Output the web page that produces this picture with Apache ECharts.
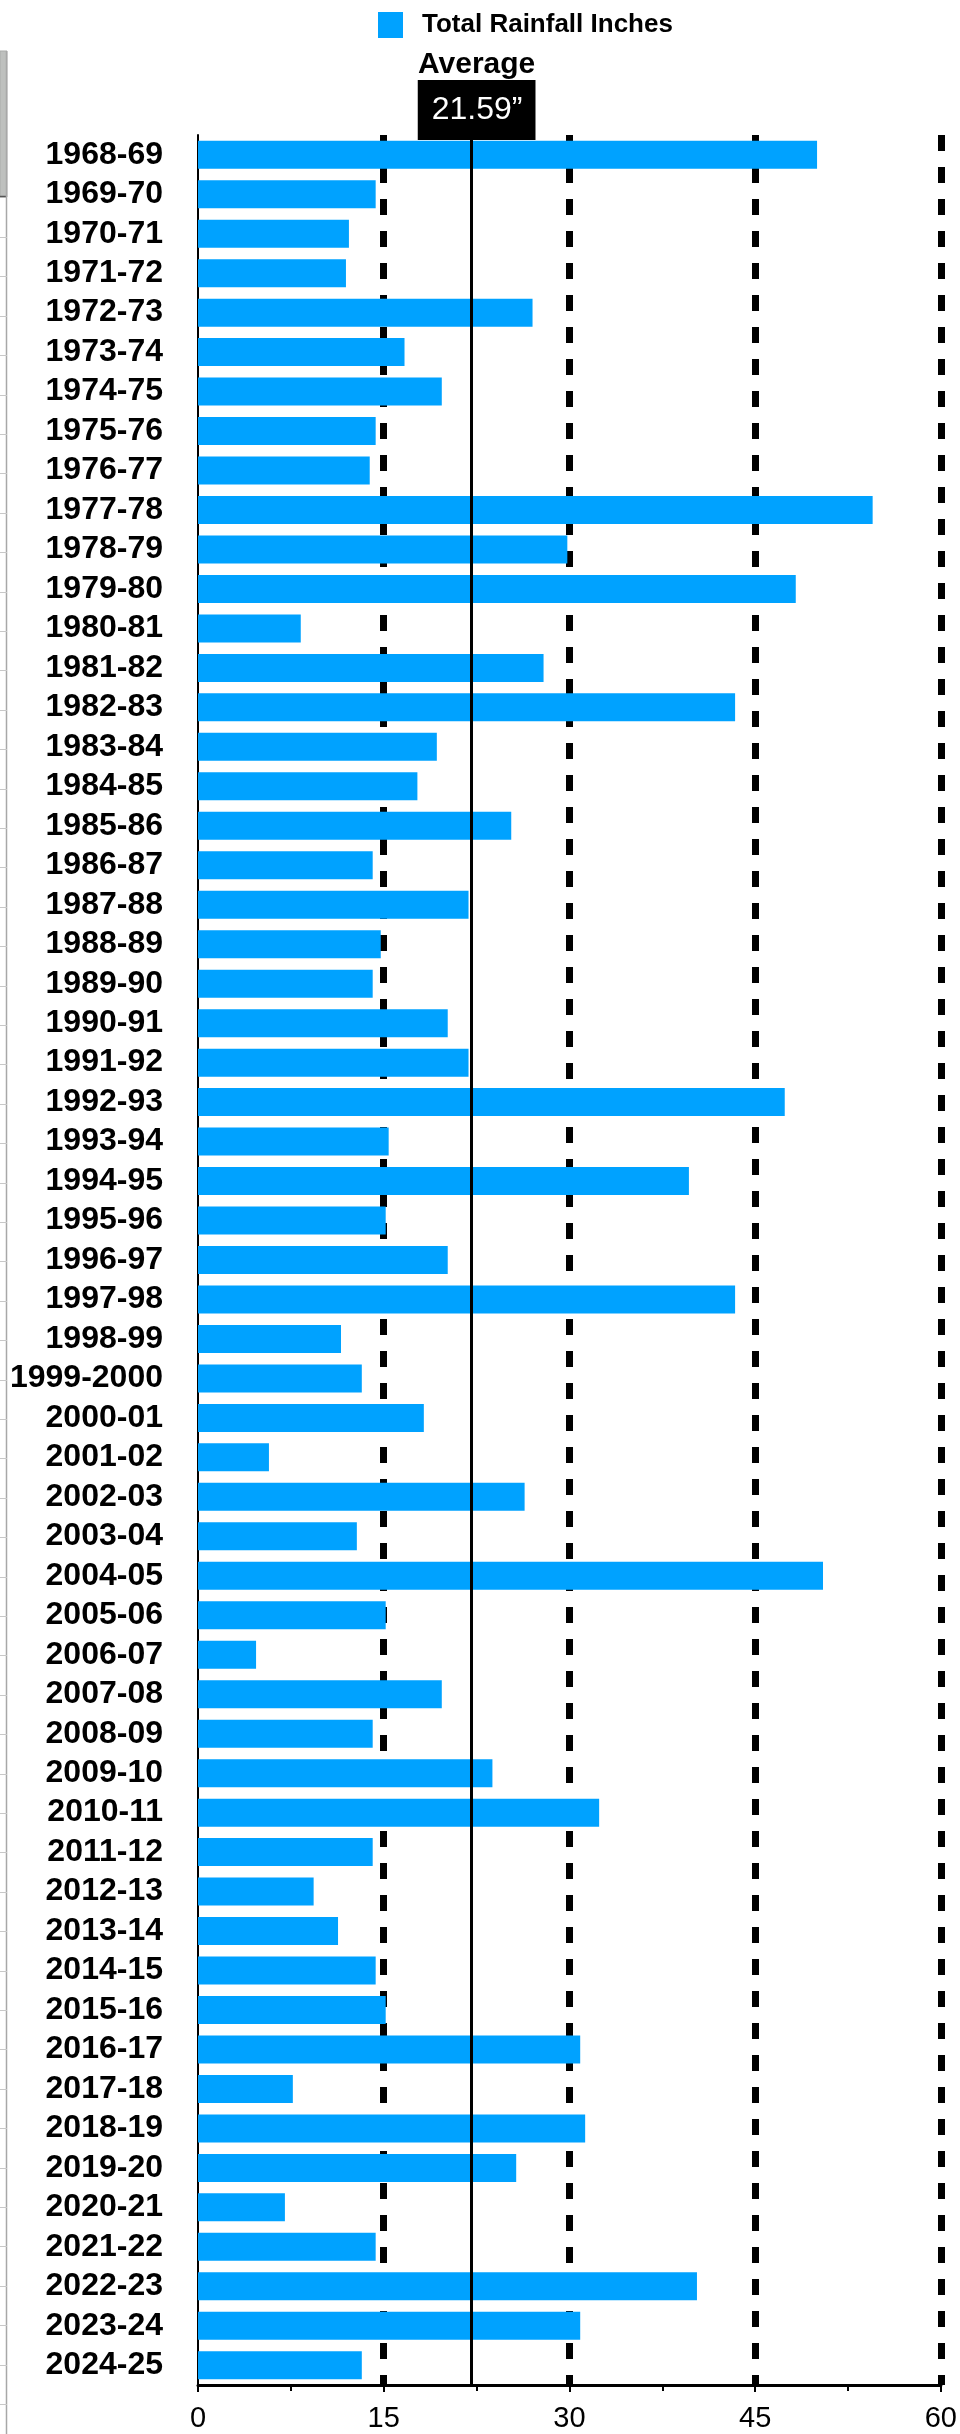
<!DOCTYPE html>
<html>
<head>
<meta charset="utf-8">
<script src="https://cdn.jsdelivr.net/npm/echarts@6/dist/echarts.min.js"></script>
<style>
html,body{margin:0;padding:0;background:#fff;}
#chart{width:960px;height:2434px;}
</style>
</head>
<body>
<div id="chart"></div>
<script>
// ---- data ----
const seasons = [
  '1968-69','1969-70','1970-71','1971-72','1972-73','1973-74','1974-75','1975-76','1976-77','1977-78',
  '1978-79','1979-80','1980-81','1981-82','1982-83','1983-84','1984-85','1985-86','1986-87','1987-88',
  '1988-89','1989-90','1990-91','1991-92','1992-93','1993-94','1994-95','1995-96','1996-97','1997-98',
  '1998-99','1999-2000','2000-01','2001-02','2002-03','2003-04','2004-05','2005-06','2006-07','2007-08',
  '2008-09','2009-10','2010-11','2011-12','2012-13','2013-14','2014-15','2015-16','2016-17','2017-18',
  '2018-19','2019-20','2020-21','2021-22','2022-23','2023-24','2024-25'
];
const rainfall = [
  50.0, 14.35, 12.19, 11.95, 27.02, 16.68, 19.69, 14.35, 13.87, 54.49,
  29.83, 48.28, 8.30, 27.91, 43.38, 19.29, 17.72, 25.30, 14.11, 21.85,
  14.76, 14.11, 20.17, 21.85, 47.39, 15.40, 39.65, 15.16, 20.17, 43.38,
  11.55, 13.23, 18.24, 5.73, 26.38, 12.83, 50.48, 15.16, 4.69, 19.69,
  14.11, 23.78, 32.40, 14.11, 9.34, 11.31, 14.35, 15.16, 30.87, 7.66,
  31.27, 25.70, 7.02, 14.35, 40.30, 30.87, 13.23
];
const xTickValues = [0, 15, 30, 45, 60];
const seriesName = 'Total Rainfall Inches';
const averageTitle = 'Average';
const averageText = '21.59\u201D';
const averageLinePosition = 22.1;

// ---- chart ----
const FONT = '"Liberation Sans", Arial, Helvetica, sans-serif';
const chart = echarts.init(document.getElementById('chart'), null, {renderer: 'canvas'});

// spreadsheet-edge decoration on the far left
const edgeDeco = [
  {type: 'rect', shape: {x: 0, y: 51, width: 7, height: 146}, style: {fill: '#bec0be', stroke: '#a9aba9', lineWidth: 1}, silent: true},
  {type: 'line', shape: {x1: 0, y1: 196.5, x2: 7, y2: 196.5}, style: {stroke: '#555', lineWidth: 1.5}, silent: true},
  {type: 'line', shape: {x1: 6.5, y1: 51, x2: 6.5, y2: 2434}, style: {stroke: '#a8a8a8', lineWidth: 1.5}, silent: true}
];
for (let y = 237; y < 2434; y += 39.4) {
  edgeDeco.push({type: 'line', shape: {x1: 0, y1: Math.round(y) + 0.5, x2: 7, y2: Math.round(y) + 0.5}, style: {stroke: '#c8c8c8', lineWidth: 1}, silent: true});
}

const option = {
  backgroundColor: '#ffffff',
  animation: false,
  textStyle: {fontFamily: FONT},
  graphic: edgeDeco,
  legend: {
    data: [seriesName],
    left: 373,
    top: 7,
    icon: 'rect',
    itemWidth: 25,
    itemHeight: 26,
    textStyle: {fontSize: 26, fontWeight: 'bold', color: '#000', fontFamily: FONT, padding: [0, 0, 0, 14]}
  },
  grid: {left: 198, right: 18, top: 135, bottom: 49, containLabel: false},
  xAxis: {
    type: 'value',
    min: xTickValues[0],
    max: xTickValues[xTickValues.length - 1],
    interval: 15,
    axisLine: {show: true, lineStyle: {color: '#000', width: 3}},
    axisTick: {show: true, length: 7, lineStyle: {color: '#000', width: 2}},
    minorTick: {show: true, splitNumber: 2, length: 6, lineStyle: {color: '#000', width: 2}},
    axisLabel: {fontSize: 29, color: '#000', margin: 19, fontFamily: FONT},
    splitLine: {show: true, showMinLine: false, lineStyle: {color: '#000', width: 7, type: [16, 16]}}
  },
  yAxis: {
    type: 'category',
    inverse: true,
    data: seasons,
    axisLine: {show: true, lineStyle: {color: '#000', width: 2}},
    axisTick: {show: false},
    axisLabel: {interval: 0, fontSize: 32, fontWeight: 'bold', color: '#000', margin: 35, fontFamily: FONT},
    splitLine: {show: false}
  },
  series: [{
    name: seriesName,
    type: 'bar',
    data: rainfall,
    barWidth: 28,
    itemStyle: {color: '#00A2FF'},
    markLine: {
      silent: true,
      symbol: 'none',
      data: [{xAxis: averageLinePosition}],
      lineStyle: {color: '#000', width: 3, type: 'solid'},
      emphasis: {disabled: true},
      label: {
        show: true,
        position: 'start',
        distance: -5,
        offset: [5, 0],
        formatter: '{t|' + averageTitle + '}\n{v|' + averageText + '}',
        rich: {
          t: {fontSize: 30, fontWeight: 'bold', color: '#000', lineHeight: 30, fontFamily: FONT, align: 'center'},
          v: {fontSize: 32, color: '#fff', backgroundColor: '#000', lineHeight: 60, padding: [14, 13, 14, 14], fontFamily: FONT, align: 'center'}
        }
      }
    }
  }]
};
chart.setOption(option);
</script>
</body>
</html>
